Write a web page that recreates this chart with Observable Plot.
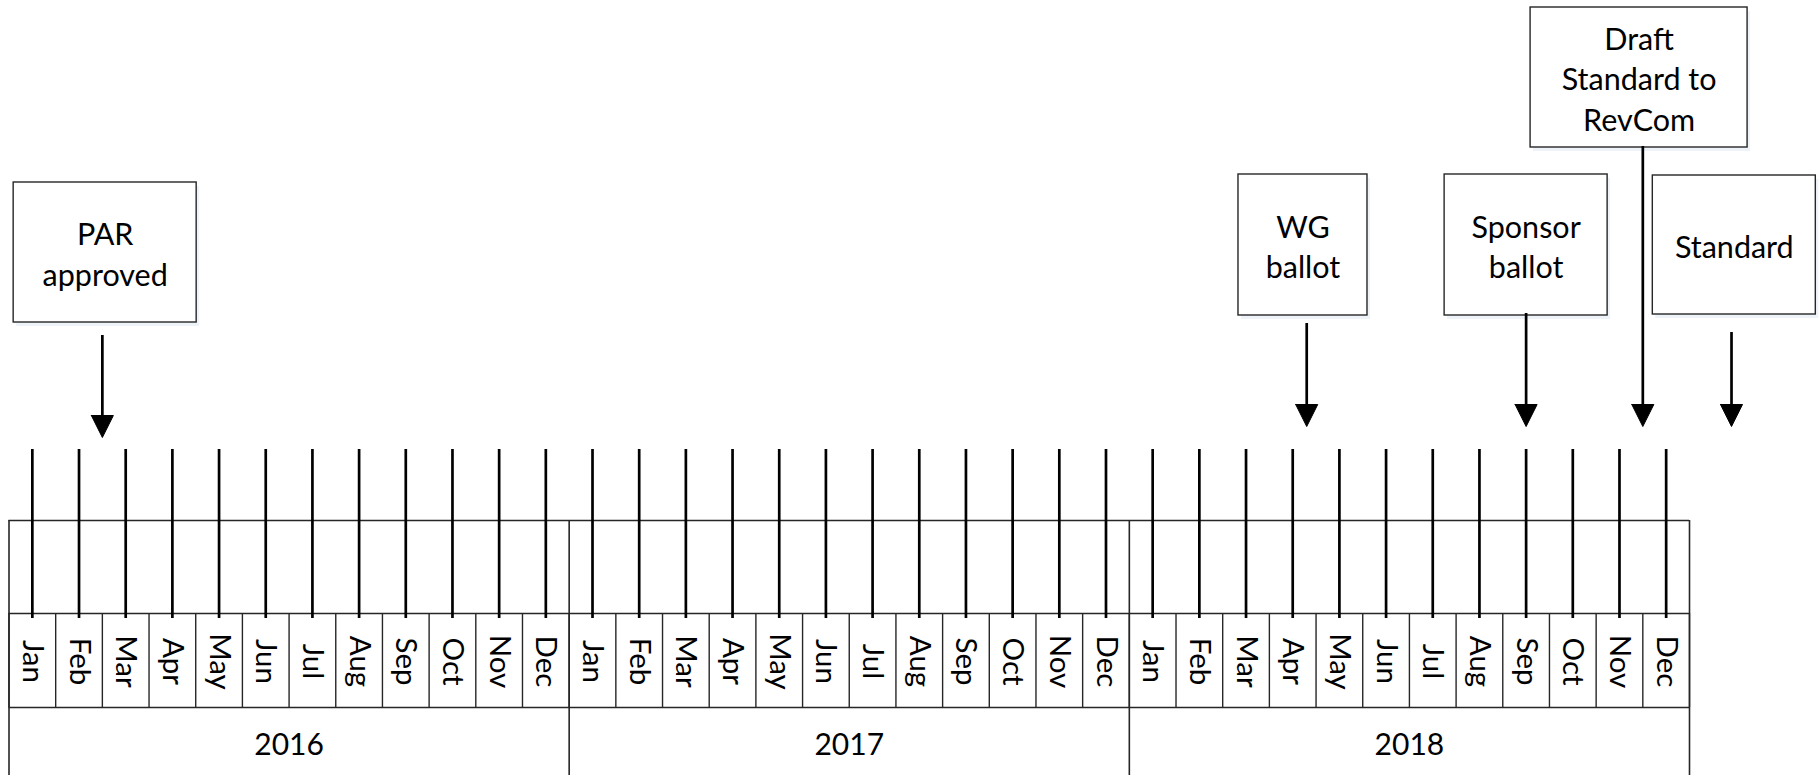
<!DOCTYPE html>
<html>
<head>
<meta charset="utf-8">
<script src="https://cdn.jsdelivr.net/npm/d3@7"></script>
<script src="https://cdn.jsdelivr.net/npm/@observablehq/plot@0.6"></script>
<style>
  html, body { margin: 0; padding: 0; background: #fff; }
  #chart svg { display: block; }
</style>
</head>
<body>
<div id="chart"></div>
<script>
// ---- data ----
const years = [2016, 2017, 2018];
const monthNames = ["Jan","Feb","Mar","Apr","May","Jun","Jul","Aug","Sep","Oct","Nov","Dec"];
// milestone labels and their position on the month axis (months since Jan 2016)
const milestoneLabels = ["PAR\napproved", "WG\nballot", "Sponsor\nballot", "Draft\nStandard to\nRevCom", "Standard"];
const milestoneMonths = [2.0, 27.8, 32.5, 35.0, 36.9];

// ---- layout (pixels) ----
const W = 1820, H = 775;
const X0 = 8.5, X1 = 1689;
const pxPerMonth = (X1 - X0) / 36;
const boxLayout = [
  {w: 183, top: 182, bottom: 322, shaftTop: 335, tip: 437},
  {w: 129, top: 174, bottom: 315, shaftTop: 323, tip: 426},
  {w: 163, top: 174, bottom: 315, shaftTop: 313, tip: 426},
  {w: 217, top: 7,   bottom: 147, shaftTop: 146, tip: 426},
  {w: 163, top: 175, bottom: 314, shaftTop: 332, tip: 426}
];
const headW = 22, headH = 22;
const boxCenterShift = [0.06, -0.08, 0.0, -0.08, 0.06];

const months = [];
years.forEach((y, yi) => monthNames.forEach((m, mi) => months.push({name: m, idx: yi * 12 + mi})));
const boundaries = d3.range(0, 37);

const milestones = milestoneLabels.map((label, i) => {
  const L = boxLayout[i];
  const cx = milestoneMonths[i] + boxCenterShift[i];
  const half = L.w / 2 / pxPerMonth;
  return {label, m: milestoneMonths[i], x1: cx - half, x2: cx + half, cx, ...L, cy: (L.top + L.bottom) / 2};
});
const heads = milestones.flatMap((d, i) => {
  const hw = headW / 2 / pxPerMonth;
  return [
    {k: i, x: d.m - hw, y: d.tip - headH},
    {k: i, x: d.m + hw, y: d.tip - headH},
    {k: i, x: d.m, y: d.tip},
    {k: i, x: d.m - hw, y: d.tip - headH}
  ];
});

const font = "Lato, 'Open Sans', sans-serif";
const thin = "#262626";

const chart = Plot.plot({
  width: W,
  height: H,
  margin: 0,
  x: {domain: [0, 36], range: [X0, X1], axis: null},
  y: {domain: [0, H], range: [0, H], axis: null},
  style: {fontFamily: font, background: "#fff"},
  marks: [
    // timeline frame
    Plot.ruleY([520, 613, 707], {y: d => d, x1: 0, x2: 36, stroke: thin, strokeWidth: 1.4}),
    Plot.ruleX(boundaries, {x: d => d, y1: 613, y2: 707, stroke: thin, strokeWidth: 1.4}),
    Plot.ruleX(years.map((y, i) => i * 12).concat([36]), {x: d => d, y1: 520, y2: H, stroke: thin, strokeWidth: 1.6}),
    // month tick lines
    Plot.ruleX(months, {x: d => d.idx + 0.5, y1: 449, y2: 618, stroke: "#000", strokeWidth: 2.7}),
    // month labels
    Plot.text(months, {x: d => d.idx + 0.5, y: 661, text: "name", rotate: 90, fontSize: 29.5, fill: "#000"}),
    // year labels
    Plot.text(years, {x: (d, i) => i * 12 + 6, y: 745, text: d => String(d), fontSize: 30, fill: "#000"}),
    // box shadows
    Plot.rect(milestones, {x1: "x1", x2: "x2", y1: "top", y2: "bottom", dx: 3, dy: 4, fill: "#eef3fa"}),
    // boxes
    Plot.rect(milestones, {x1: "x1", x2: "x2", y1: "top", y2: "bottom", fill: "#fff", stroke: thin, strokeWidth: 1.4}),
    Plot.text(milestones, {x: "cx", y: "cy", text: "label", fontSize: 30.5, lineHeight: 1.32, fill: "#000"}),
    // arrow shafts
    Plot.ruleX(milestones, {x: "m", y1: "shaftTop", y2: d => d.tip - headH + 2, stroke: "#000", strokeWidth: 2.7}),
    // arrow heads
    Plot.line(heads, {x: "x", y: "y", z: "k", fill: "#000", stroke: "#000", strokeWidth: 1, curve: "linear"})
  ]
});
document.getElementById("chart").appendChild(chart);
</script>
</body>
</html>
